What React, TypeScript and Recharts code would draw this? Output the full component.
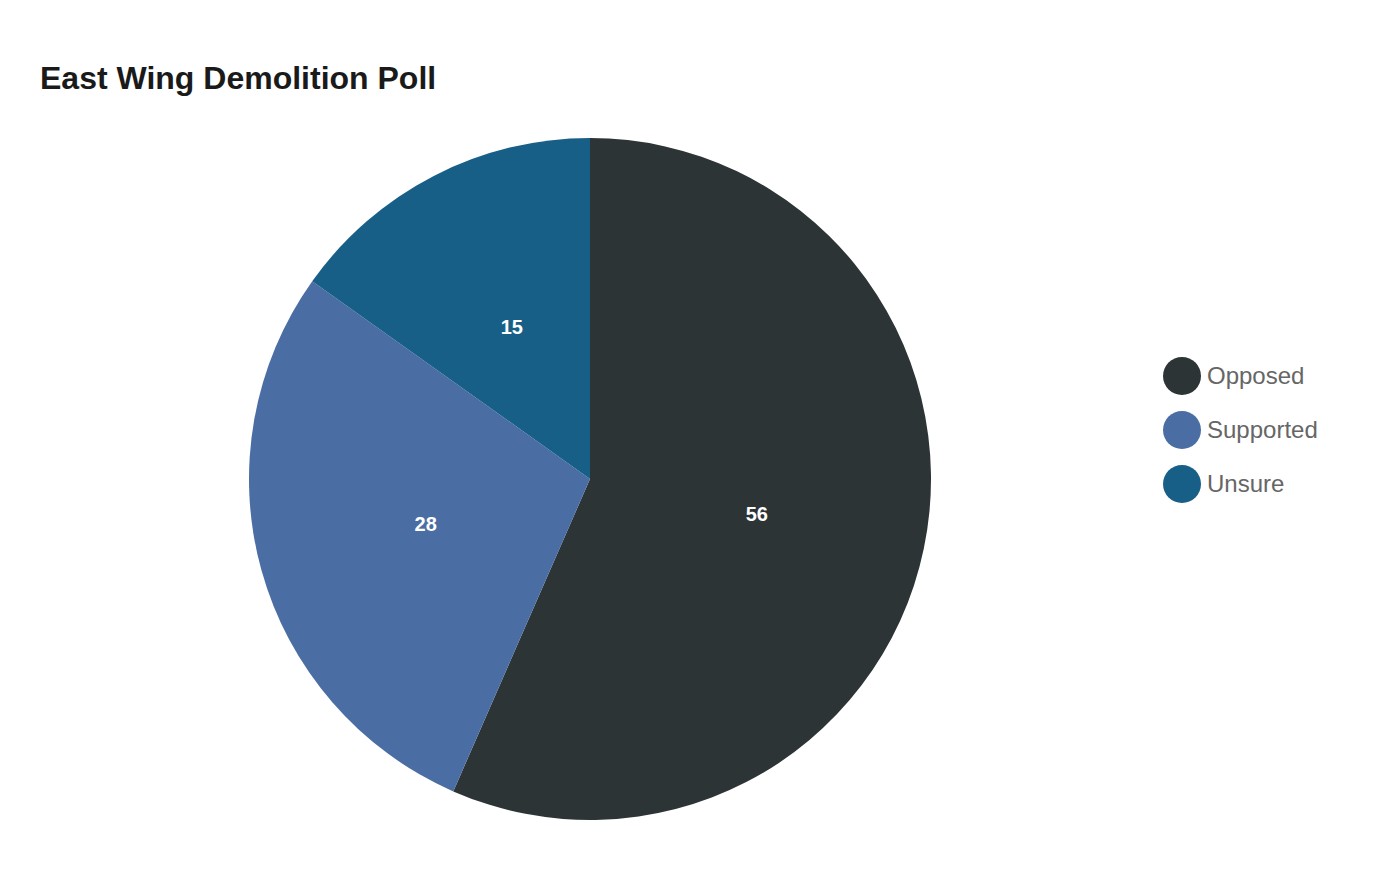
import React from "react";
import { PieChart, Pie, Cell, Legend } from "recharts";

const categories = ["Opposed", "Supported", "Unsure"];
const values = [56, 28, 15];
const colors = ["#2d3436", "#4a6da3", "#175f87"];

const data = categories.map((name, i) => ({ name, value: values[i] }));

const RADIAN = Math.PI / 180;

const renderLabel = (props: any) => {
  const { cx, cy, midAngle, outerRadius, value } = props;
  const r = outerRadius * 0.5;
  const x = cx + r * Math.cos(-midAngle * RADIAN);
  const y = cy + r * Math.sin(-midAngle * RADIAN);
  return (
    <text
      x={x}
      y={y}
      fill="#ffffff"
      textAnchor="middle"
      dominantBaseline="central"
      fontFamily="'Liberation Sans', Arial, sans-serif"
      fontWeight="bold"
      fontSize={20}
    >
      {value}
    </text>
  );
};

const renderLegend = () => (
  <div style={{ fontFamily: "'Liberation Sans', Arial, sans-serif" }}>
    {categories.map((c, i) => (
      <div
        key={c}
        style={{ display: "flex", alignItems: "center", height: 54 }}
      >
        <div
          style={{
            width: 38,
            height: 38,
            borderRadius: "50%",
            background: colors[i],
            marginRight: 6,
          }}
        />
        <span style={{ fontSize: 24, color: "#666666" }}>{c}</span>
      </div>
    ))}
  </div>
);

export default function App() {
  return (
    <div style={{ position: "relative", width: 1384, height: 864 }}>
      <div
        style={{
          position: "absolute",
          left: 32,
          top: 54,
          fontFamily: "'Liberation Sans', Arial, sans-serif",
          fontWeight: "bold",
          fontSize: 32,
          lineHeight: "32px",
          color: "#1a1a1a",
          whiteSpace: "nowrap",
        }}
      >
        East Wing Demolition Poll
      </div>
      <PieChart width={1384} height={864}>
        <Pie
          data={data}
          dataKey="value"
          nameKey="name"
          cx={577}
          cy={466}
          outerRadius={341}
          startAngle={90}
          endAngle={-270}
          stroke="none"
          label={renderLabel}
          labelLine={false}
          isAnimationActive={false}
        >
          {data.map((d, i) => (
            <Cell key={d.name} fill={colors[i]} />
          ))}
        </Pie>
        <Legend
          content={renderLegend}
          wrapperStyle={{ position: "absolute", left: 1155, top: 341, width: 220 }}
        />
      </PieChart>
    </div>
  );
}
